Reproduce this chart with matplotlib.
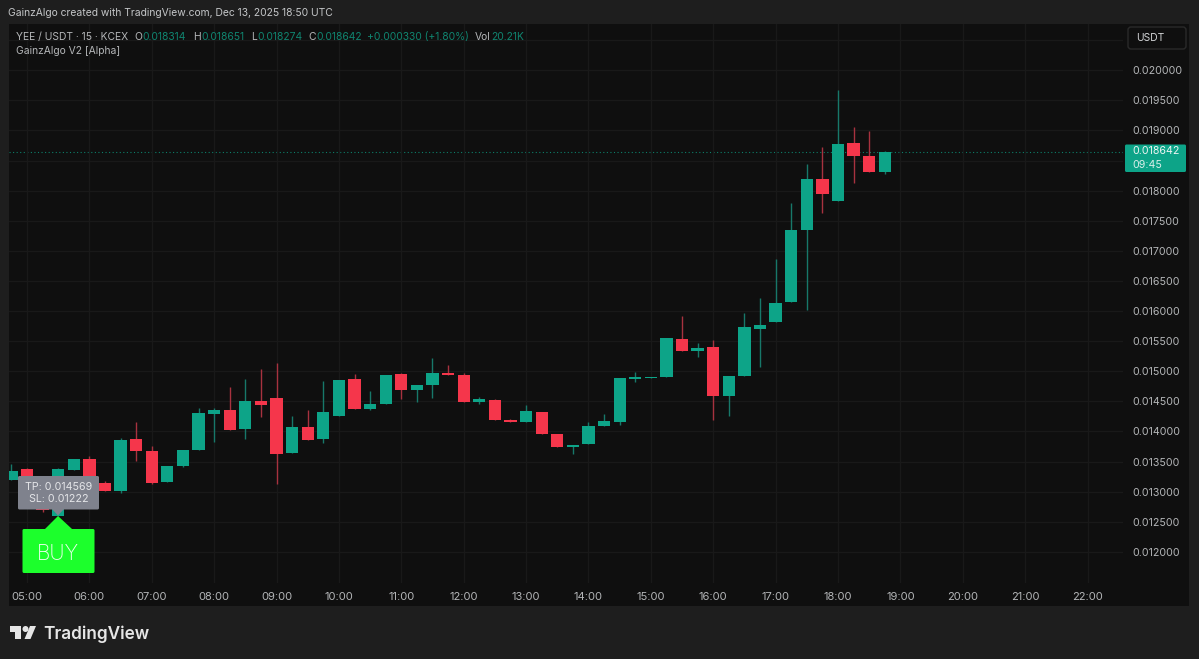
"""YEE/USDT 15 minute candles in the TradingView dark layout."""
from datetime import timedelta

import matplotlib.dates as mdates
import matplotlib.pyplot as plt
import numpy as np
import pandas as pd
from matplotlib.patches import Circle, FancyBboxPatch, Polygon, Rectangle

# candle values, in thousandths of a USDT
opens = [13.194, 13.377, 12.779, 12.601, 13.365, 13.538, 13.140, 13.012, 13.870, 13.681,
         13.156, 13.432, 13.693, 14.296, 14.357, 14.042, 14.507, 14.551, 13.638, 14.075,
         13.875, 14.257, 14.867, 14.369, 14.457, 14.950, 14.689, 14.777, 14.972, 14.939,
         14.490, 14.523, 14.191, 14.158, 14.329, 13.953, 13.738, 13.787, 14.086, 14.153,
         14.877, 14.884, 14.900, 15.541, 15.342, 15.404, 14.590, 14.917, 15.698, 15.824,
         16.156, 17.347, 18.199, 17.829, 18.792, 18.576, 18.314]
highs = [13.460, 13.390, 12.800, 13.390, 13.538, 13.593, 13.178, 13.892, 14.163, 13.759,
         13.432, 13.693, 14.385, 14.390, 14.734, 14.872, 15.033, 15.133, 14.257, 14.357,
         14.839, 14.860, 14.955, 14.673, 14.939, 14.977, 14.777, 15.226, 15.105, 14.967,
         14.578, 14.545, 14.208, 14.440, 14.329, 13.953, 13.776, 14.163, 14.286, 14.884,
         14.993, 14.905, 15.548, 15.924, 15.475, 15.520, 14.922, 15.963, 16.213, 16.865,
         17.801, 18.439, 18.731, 19.673, 19.063, 18.997, 18.651]
lows = [13.190, 13.130, 12.663, 12.590, 13.365, 13.140, 13.017, 12.983, 13.505, 13.128,
        13.156, 13.410, 13.693, 13.831, 14.025, 13.875, 14.236, 13.128, 13.638, 13.859,
        13.814, 14.257, 14.369, 14.357, 14.457, 14.540, 14.495, 14.551, 14.934, 14.495,
        14.452, 14.191, 14.153, 14.158, 13.953, 13.738, 13.626, 13.787, 14.086, 14.108,
        14.817, 14.884, 14.900, 15.342, 15.243, 14.191, 14.257, 14.917, 15.066, 15.824,
        16.156, 16.018, 17.635, 17.829, 18.123, 18.306, 18.274]
closes = [13.349, 13.145, 12.696, 13.377, 13.538, 13.140, 13.017, 13.859, 13.681, 13.150,
          13.432, 13.693, 14.302, 14.357, 14.025, 14.507, 14.445, 13.626, 14.075, 13.859,
          14.329, 14.860, 14.369, 14.452, 14.939, 14.689, 14.777, 14.977, 14.934, 14.495,
          14.540, 14.191, 14.153, 14.341, 13.953, 13.738, 13.776, 14.091, 14.169, 14.884,
          14.900, 14.905, 15.548, 15.342, 15.392, 14.595, 14.922, 15.741, 15.769, 16.130,
          17.347, 18.199, 17.940, 18.771, 18.576, 18.306, 18.642]
first_bar = "2025-12-13 04:45"
last_price = 0.018642
# 0.0185 sits behind the last price tag and 0.0205 is above the top label: grid line only
price_ticks = [0.012, 0.0125, 0.013, 0.0135, 0.014, 0.0145, 0.015, 0.0155, 0.016,
               0.0165, 0.017, 0.0175, 0.018, 0.0185, 0.019, 0.0195, 0.020, 0.0205]
unlabelled = [0.0185, 0.0205]
hour_ticks = pd.date_range("2025-12-13 05:00", "2025-12-13 22:00", freq="1h")

UP = "#0da488"
DOWN = "#f5364b"
UP_WICK = "#17786a"
DOWN_WICK = "#a8323f"
GRID = "#191919"
AXIS_TEXT = "#b4b6b8"
W, H = 1199, 659

plt.rcParams["font.family"] = ["Inter", "DejaVu Sans"]

fig = plt.figure(figsize=(W / 100, H / 100), dpi=100, facecolor="#1e1e1e")

# dark panel behind the chart and both axes
panel = fig.add_axes([9 / W, 1 - 606 / H, 1180 / W, 582 / H], facecolor="#0f0f0f", zorder=0)
panel.set_xticks([])
panel.set_yticks([])
for spine in panel.spines.values():
    spine.set_visible(False)

ax = fig.add_axes([9 / W, 1 - 583 / H, 1114 / W, 559 / H], facecolor="none", zorder=1)

times = pd.date_range(first_bar, periods=len(opens), freq="15min")
o = np.array(opens) / 1000
h = np.array(highs) / 1000
l = np.array(lows) / 1000
c = np.array(closes) / 1000
rising = c >= o

ax.vlines(times[rising], l[rising], h[rising], color=UP_WICK, lw=1.0, zorder=2)
ax.vlines(times[~rising], l[~rising], h[~rising], color=DOWN_WICK, lw=1.0, zorder=2)
ax.bar(times, np.maximum(np.abs(c - o), 0.00002), bottom=np.minimum(o, c),
       width=timedelta(minutes=11.8), color=[UP if r else DOWN for r in rising], zorder=3)
ax.axhline(last_price, color=UP, lw=0.8, ls=(0, (1, 2.2)), alpha=0.75, zorder=1)

ax.set_xlim(pd.Timestamp("2025-12-13 04:42:41"), pd.Timestamp("2025-12-13 22:34:08"))
ax.set_ylim(0.011483, 0.020769)
ax.set_xticks(hour_ticks)
ax.xaxis.set_major_formatter(mdates.DateFormatter("%H:%M"))
ax.set_yticks(price_ticks, labels=["" if p in unlabelled else f"{p:.6f}" for p in price_ticks])
ax.yaxis.tick_right()
ax.tick_params(axis="both", length=0, labelcolor=AXIS_TEXT)
ax.tick_params(axis="x", pad=6.5, labelsize=8.0)
ax.tick_params(axis="y", pad=6.8, labelsize=7.65)
ax.grid(True, color=GRID, lw=1.0, zorder=0)
for spine in ax.spines.values():
    spine.set_visible(False)

# everything below is placed in screen pixels, y going down
over = fig.add_axes([0, 0, 1, 1], facecolor="none", zorder=3)
over.set_xlim(0, W)
over.set_ylim(H, 0)
over.axis("off")


def label(x, y, s, color="#c4c6c8", size=7.45, ha="left", **kw):
    over.text(x, y, s, color=color, fontsize=size, ha=ha, va="center", **kw)


label(8, 13.5, "GainzAlgo created with TradingView.com, Dec 13, 2025 18:50 UTC")

VALUE = "#0f8570"
label(16, 37, "YEE / USDT · 15 · KCEX", color="#b4b6b8")
for x, s, col in [(134, "O", "#b4b6b8"), (142, "0.018314", VALUE),
                  (193, "H", "#b4b6b8"), (201, "0.018651", VALUE),
                  (251, "L", "#b4b6b8"), (257, "0.018274", VALUE),
                  (308, "C", "#b4b6b8"), (316, "0.018642", VALUE),
                  (367, "+0.000330 (+1.80%)", VALUE),
                  (475, "Vol", "#b4b6b8"), (491, "20.21K", VALUE)]:
    label(x, 37, s, color=col)
label(16, 51, "GainzAlgo V2 [Alpha]", color="#b4b6b8")

# currency button and last price tag on the price axis
over.add_patch(FancyBboxPatch((1128, 27), 58, 22, boxstyle="round,pad=0,rounding_size=3",
                              fc="#0f0f0f", ec="#2a2a2a", lw=1))
label(1136, 38, "USDT", color="#d4d6d8", size=7.4)
over.add_patch(FancyBboxPatch((1125, 144.5), 61, 27.5, boxstyle="round,pad=0,rounding_size=1.5",
                              fc=UP, ec="none"))
label(1132.5, 151.5, "0.018642", color="#eef5f3", size=7.65)
label(1132.5, 164.5, "09:45", color="#d8efe9", size=7.65)

# BUY signal and its TP / SL tooltip
over.add_patch(Polygon([(58, 516), (72, 529), (58, 545), (45, 529)], fc="#1cff2c", ec="none"))
over.add_patch(FancyBboxPatch((22.5, 529), 72, 44, boxstyle="round,pad=0,rounding_size=1.5",
                              fc="#1cff2c", ec="none"))
label(58, 554, "BUY", color="#eefff0", size=15, ha="center", fontweight="light")
over.add_patch(Polygon([(52, 509), (64, 509), (58, 515.5)], fc="#7f828d", ec="none"))
over.add_patch(FancyBboxPatch((18, 476), 81, 33.5, boxstyle="round,pad=0,rounding_size=1.5",
                              fc="#7f828d", ec="none"))
label(58.5, 486.5, "TP: 0.014569", color="#e4e5e8", size=7.7, ha="center")
label(58.5, 498.5, "SL: 0.01222", color="#e4e5e8", size=7.7, ha="center")

# TradingView logo, footer
LOGO = "#e6e6e6"
over.add_patch(Rectangle((10, 626), 11, 6, fc=LOGO, ec="none"))
over.add_patch(Rectangle((15, 626), 6, 13, fc=LOGO, ec="none"))
over.add_patch(Circle((25.5, 629), 3, fc=LOGO, ec="none"))
over.add_patch(Polygon([(30, 626), (36, 626), (30.5, 639), (24.5, 639)], fc=LOGO, ec="none"))
label(43, 634, "TradingView", color=LOGO, size=12.4, fontweight="semibold")

fig.savefig("out.png", dpi=100, facecolor=fig.get_facecolor())
